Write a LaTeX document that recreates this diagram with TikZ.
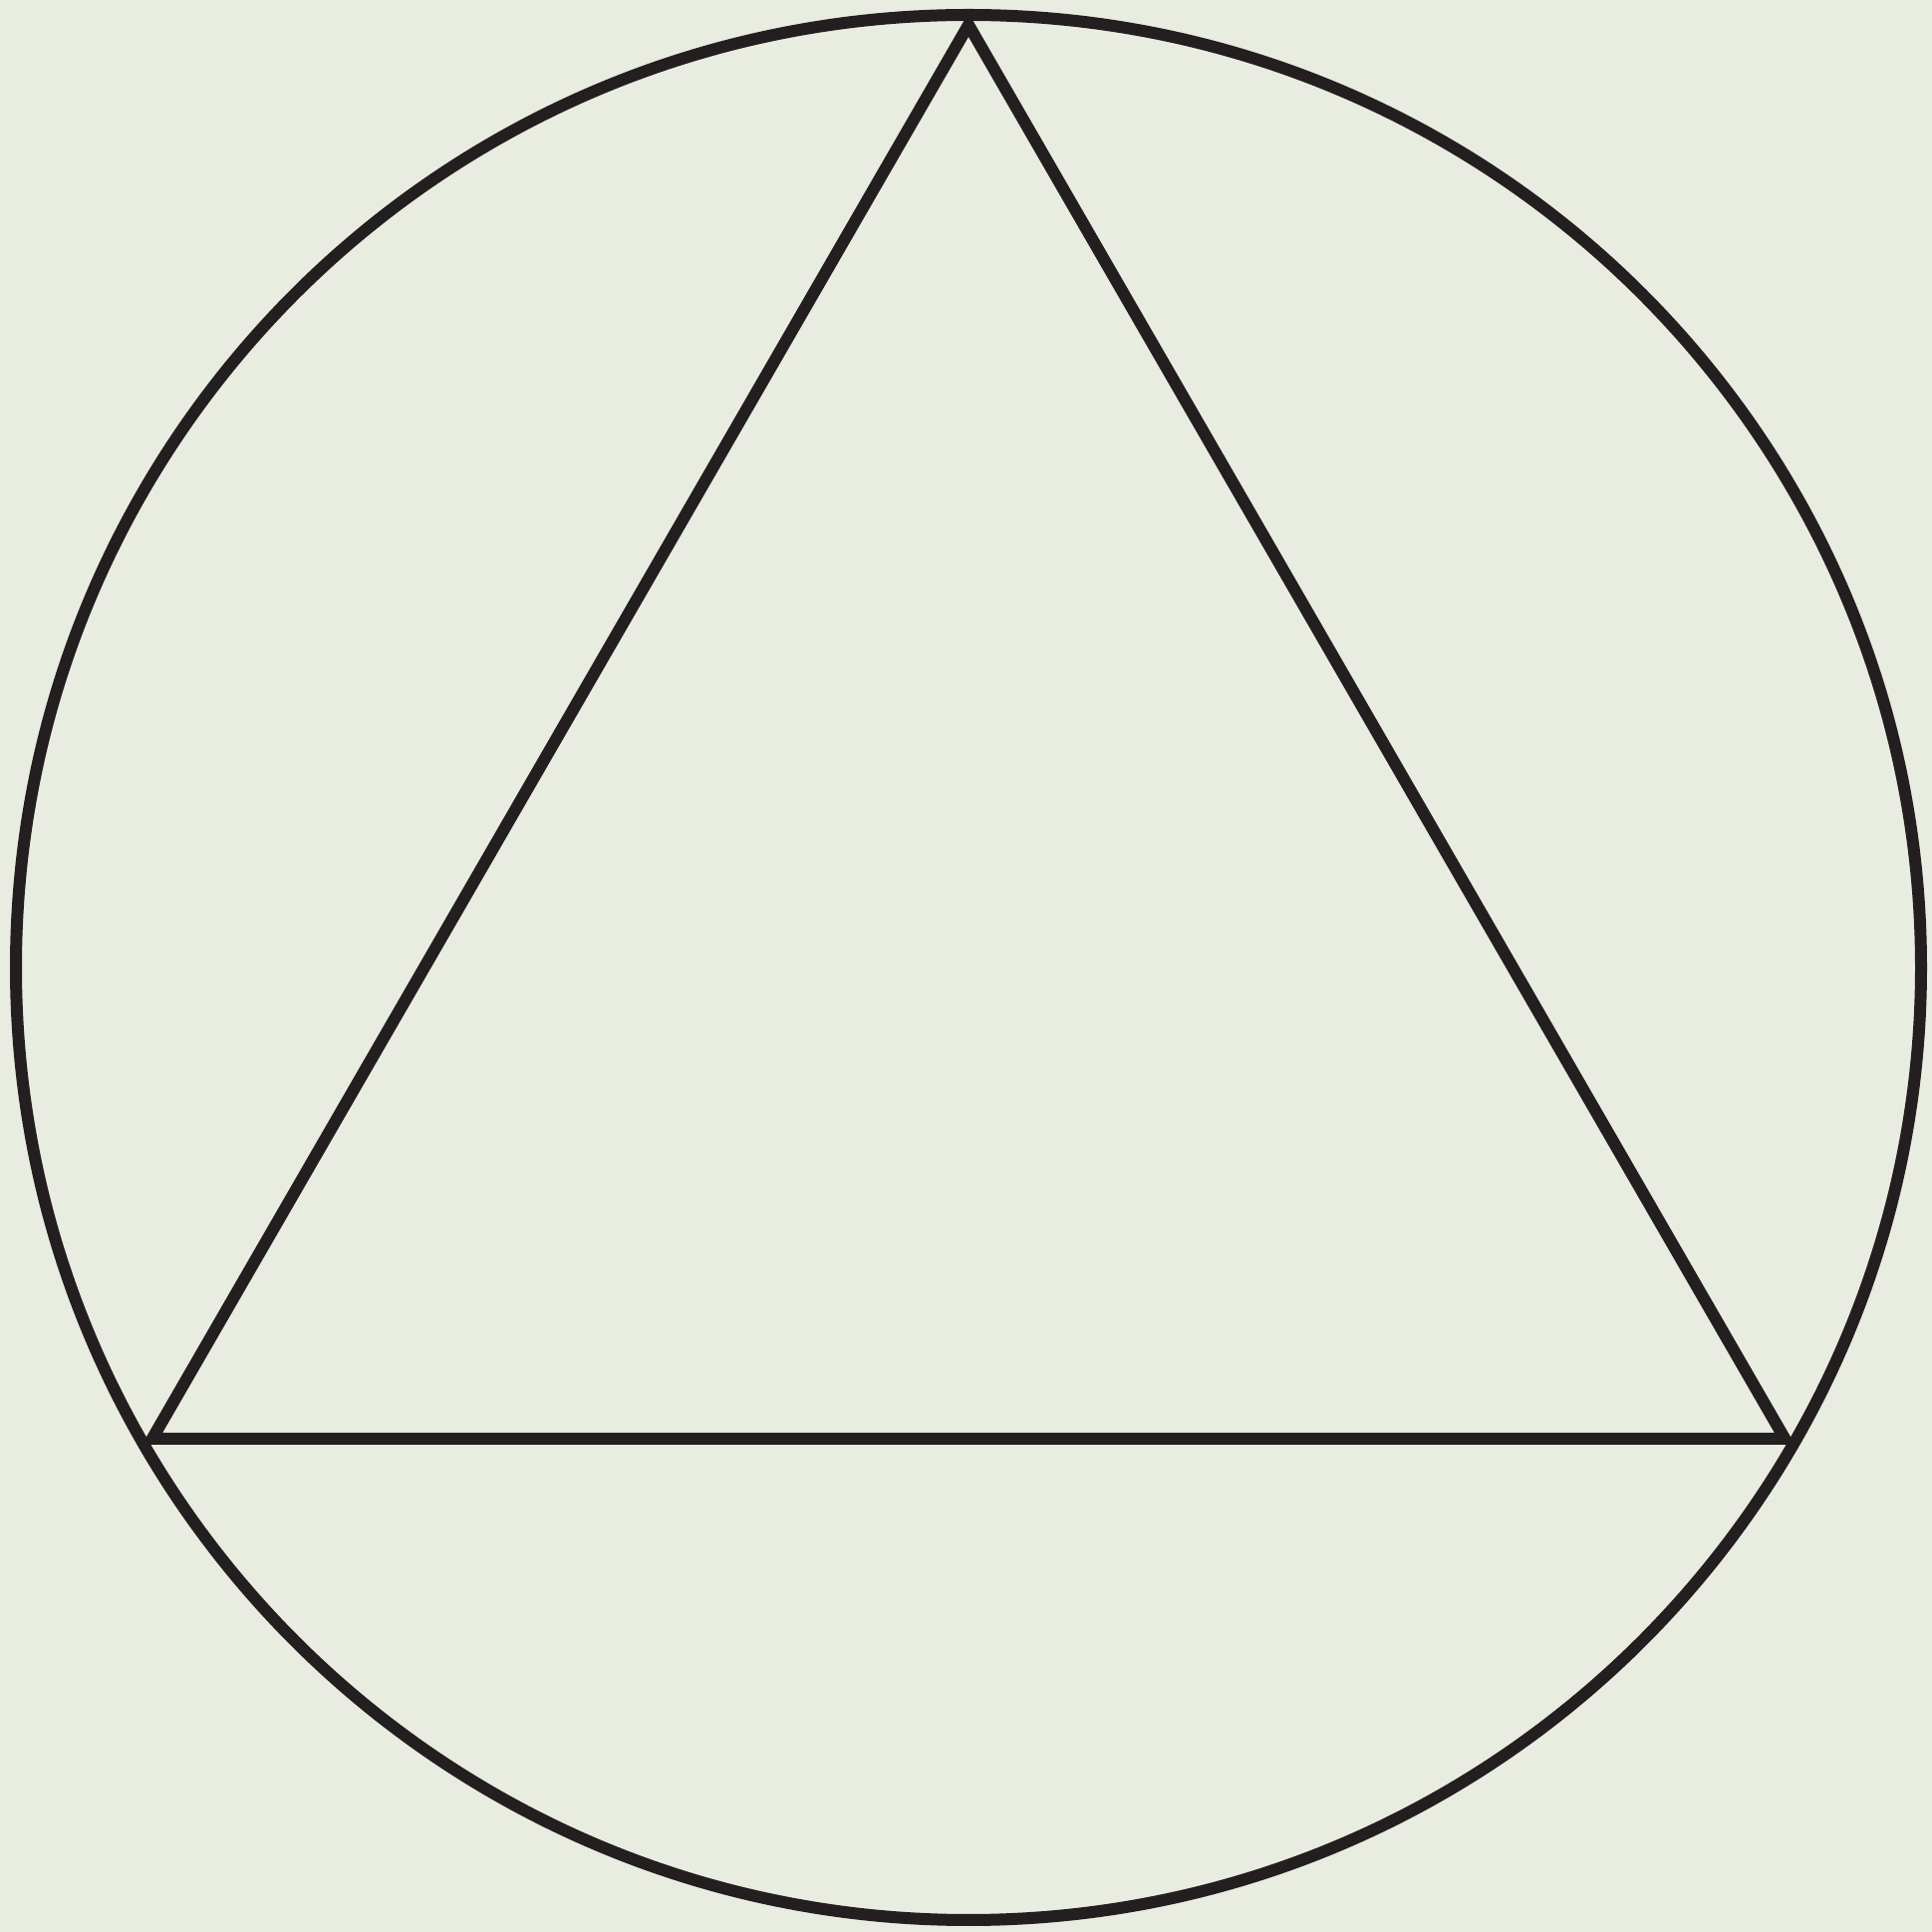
\documentclass[tikz,border=0pt]{standalone}
\usepackage{tikz}
\usepackage{xcolor}
\usetikzlibrary{calc}
\definecolor{paperbg}{RGB}{233,236,224}
\definecolor{inkline}{RGB}{35,31,32}

\begin{document}
\begin{tikzpicture}[line join=miter]

%% ── background ───────────────────────────────────────────────────────────────
\fill[paperbg] (0,0) rectangle (19.39,19.39);
\useasboundingbox (0,0) rectangle (19.39,19.39);

%% ── circle ───────────────────────────────────────────────────────────────────
\coordinate (centre) at (9.72,9.68);
\draw[inkline,line width=0.12cm] (centre) circle (9.56);

%% ── inscribed triangle ───────────────────────────────────────────────────────
\coordinate (apex)  at ($(centre)+(90:9.46)$);
\coordinate (left)  at ($(centre)+(210:9.46)$);
\coordinate (right) at ($(centre)+(330:9.46)$);
\draw[inkline,line width=0.12cm] (apex) -- (right) -- (left) -- cycle;

\end{tikzpicture}
\end{document}
